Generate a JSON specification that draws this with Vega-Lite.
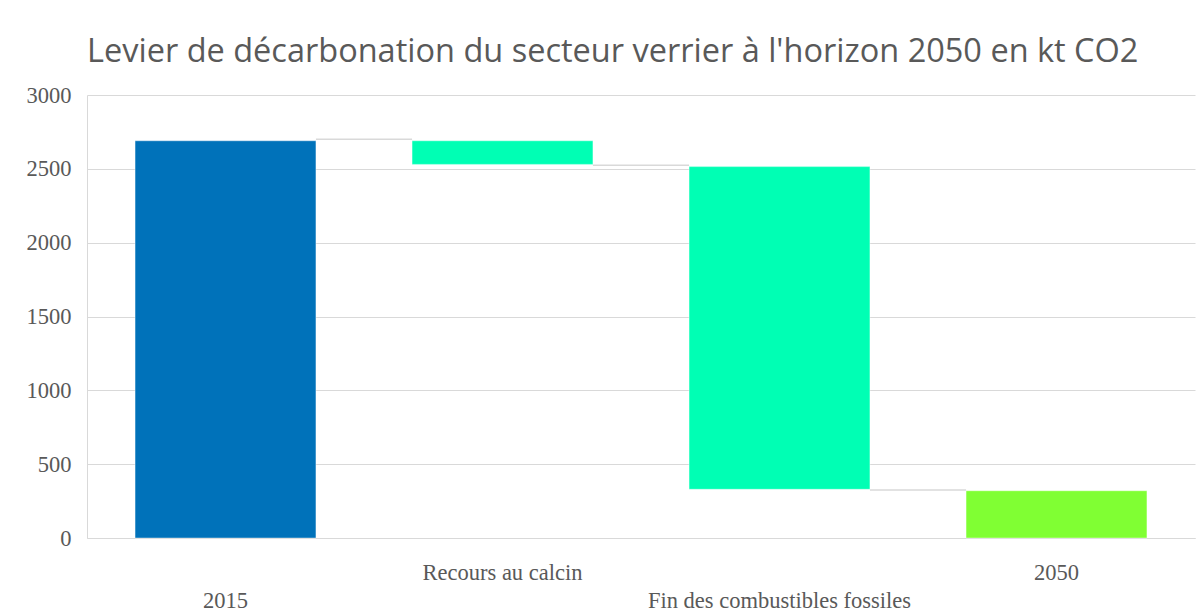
{
  "$schema": "https://vega.github.io/schema/vega-lite/v6.json",
  "autosize": {"type": "none"},
  "padding": {"left": 87, "top": 95, "right": 7, "bottom": 78},
  "width": 1108,
  "height": 443,
  "background": "white",
  "title": {
    "text": "Levier de décarbonation du secteur verrier à l'horizon 2050 en kt CO2",
    "anchor": "start",
    "frame": "group",
    "font": "Open Sans",
    "fontSize": 32.5,
    "fontWeight": "normal",
    "color": "#595959",
    "baseline": "alphabetic",
    "offset": 30,
    "dy": 40
  },
  "datasets": {
    "bars": [
      {"categorie": "2015", "debut": 0, "fin": 2690, "type": "total2015"},
      {"categorie": "Recours au calcin", "debut": 2690, "fin": 2530, "type": "baisse"},
      {"categorie": "Fin des combustibles fossiles", "debut": 2515, "fin": 330, "type": "baisse"},
      {"categorie": "2050", "debut": 0, "fin": 320, "type": "total2050"}
    ],
    "liens": [
      {"de": "2015", "vers": "Recours au calcin", "niveau": 2700},
      {"de": "Recours au calcin", "vers": "Fin des combustibles fossiles", "niveau": 2525},
      {"de": "Fin des combustibles fossiles", "vers": "2050", "niveau": 325}
    ]
  },
  "config": {
    "view": {"stroke": null},
    "axis": {
      "labelFont": "Liberation Serif",
      "labelFontSize": 22.5,
      "labelColor": "#595959",
      "gridColor": "#d9d9d9",
      "domainColor": "#d9d9d9",
      "ticks": false,
      "labelLimit": 500
    }
  },
  "layer": [
    {
      "data": {"name": "bars"},
      "mark": {"type": "bar", "stroke": "white", "strokeOpacity": 0.4, "strokeWidth": 1},
      "encoding": {
        "x": {
          "field": "categorie",
          "type": "nominal",
          "scale": {
            "domain": ["2015", "Recours au calcin", "Fin des combustibles fossiles", "2050"],
            "paddingInner": 0.347,
            "paddingOuter": 0.1735
          },
          "axis": {
            "title": null,
            "labelAngle": 0,
            "labelPadding": 34,
            "labelLineHeight": 28,
            "labelBaseline": "middle",
            "labelExpr": "(datum.value == 'Recours au calcin' || datum.value == '2050') ? datum.value : ['', datum.value]",
            "grid": false,
            "domain": true
          }
        },
        "y": {
          "field": "debut",
          "type": "quantitative",
          "scale": {"domain": [0, 3000]},
          "axis": {
            "title": null,
            "values": [0, 500, 1000, 1500, 2000, 2500, 3000],
            "format": "d",
            "labelPadding": 16,
            "grid": true,
            "domain": true
          }
        },
        "y2": {"field": "fin"},
        "color": {
          "field": "type",
          "type": "nominal",
          "scale": {
            "domain": ["total2015", "baisse", "total2050"],
            "range": ["#0072BA", "#00FFB4", "#80FF33"]
          },
          "legend": null
        }
      }
    },
    {
      "data": {"name": "liens"},
      "mark": {"type": "rule", "color": "#d9d9d9", "strokeWidth": 1.5},
      "encoding": {
        "x": {"field": "de", "type": "nominal", "bandPosition": 1},
        "x2": {"field": "vers", "bandPosition": 0},
        "y": {"field": "niveau", "type": "quantitative"}
      }
    }
  ]
}
